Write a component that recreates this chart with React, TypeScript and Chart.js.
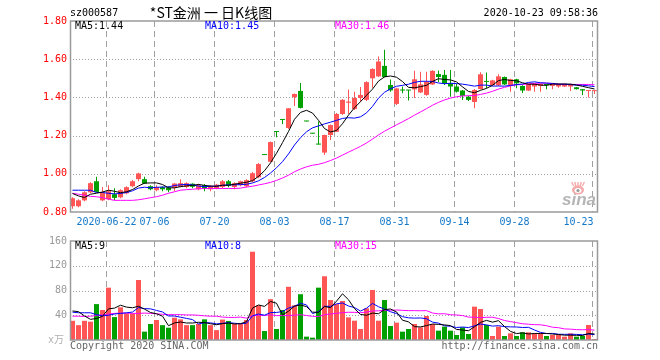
import React, { useEffect, useRef } from 'react';
import { Chart, registerables } from 'chart.js';
Chart.register(...registerables);

const dates = ['06-12','06-15','06-16','06-17','06-18','06-19','06-22','06-23','06-24','06-29','06-30','07-01','07-02','07-03','07-06','07-07','07-08','07-09','07-10','07-13','07-14','07-15','07-16','07-17','07-20','07-21','07-22','07-23','07-24','07-27','07-28','07-29','07-30','07-31','08-03','08-04','08-05','08-06','08-07','08-10','08-11','08-12','08-13','08-14','08-17','08-18','08-19','08-20','08-21','08-24','08-25','08-26','08-27','08-28','08-31','09-01','09-02','09-03','09-04','09-07','09-08','09-09','09-10','09-11','09-14','09-15','09-16','09-17','09-18','09-21','09-22','09-23','09-24','09-25','09-28','09-29','09-30','10-09','10-12','10-13','10-14','10-15','10-16','10-19','10-20','10-21','10-22','10-23'];
const tickLabels = ['2020-06-22','07-06','07-20','08-03','08-17','08-31','09-14','09-28','10-23'];

const open = [
  0.830, 0.830, 0.861, 0.903, 0.961, 0.861, 0.867, 0.893, 0.877, 0.898,
  0.935, 0.972, 0.972, 0.935, 0.914, 0.930, 0.927, 0.927, 0.931, 0.931,
  0.948, 0.919, 0.940, 0.919, 0.925, 0.931, 0.961, 0.931, 0.940, 0.935,
  0.961, 0.982, 1.103, 1.063, 1.221, 1.285, 1.240, 1.401, 1.434, 1.277,
  1.213, 1.158, 1.111, 1.203, 1.220, 1.313, 1.372, 1.339, 1.397, 1.387,
  1.500, 1.510, 1.565, 1.465, 1.366, 1.439, 1.439, 1.442, 1.426, 1.413,
  1.468, 1.522, 1.518, 1.474, 1.457, 1.436, 1.404, 1.376, 1.444, 1.484,
  1.464, 1.463, 1.507, 1.464, 1.495, 1.460, 1.436, 1.457, 1.460, 1.471,
  1.460, 1.457, 1.457, 1.457, 1.453, 1.443, 1.433, 1.433
];
const high = [
  0.877, 0.867, 0.909, 0.956, 0.984, 0.931, 0.940, 0.925, 0.919, 0.935,
  0.967, 1.006, 0.985, 0.940, 0.940, 0.935, 0.935, 0.951, 0.972, 0.956,
  0.951, 0.946, 0.946, 0.940, 0.946, 0.967, 0.967, 0.956, 0.964, 0.972,
  1.009, 1.056, 1.103, 1.169, 1.221, 1.285, 1.345, 1.421, 1.476, 1.277,
  1.213, 1.274, 1.205, 1.258, 1.318, 1.392, 1.442, 1.429, 1.455, 1.484,
  1.552, 1.614, 1.649, 1.494, 1.450, 1.457, 1.439, 1.539, 1.534, 1.534,
  1.542, 1.541, 1.544, 1.544, 1.471, 1.439, 1.408, 1.444, 1.532, 1.531,
  1.492, 1.521, 1.510, 1.497, 1.497, 1.463, 1.473, 1.473, 1.473, 1.471,
  1.473, 1.473, 1.471, 1.471, 1.455, 1.444, 1.436, 1.436
];
const low = [
  0.817, 0.825, 0.856, 0.898, 0.903, 0.856, 0.861, 0.861, 0.872, 0.893,
  0.930, 0.961, 0.946, 0.914, 0.909, 0.909, 0.903, 0.909, 0.930, 0.925,
  0.925, 0.914, 0.909, 0.909, 0.919, 0.925, 0.930, 0.919, 0.935, 0.930,
  0.956, 0.977, 1.098, 1.061, 1.191, 1.261, 1.234, 1.355, 1.342, 1.274,
  1.210, 1.153, 1.098, 1.177, 1.219, 1.308, 1.313, 1.334, 1.376, 1.381,
  1.450, 1.507, 1.505, 1.429, 1.360, 1.422, 1.384, 1.397, 1.423, 1.408,
  1.465, 1.481, 1.465, 1.404, 1.426, 1.387, 1.381, 1.343, 1.442, 1.448,
  1.460, 1.460, 1.465, 1.430, 1.448, 1.423, 1.434, 1.430, 1.430, 1.443,
  1.443, 1.450, 1.455, 1.434, 1.442, 1.413, 1.400, 1.418
];
const close = [
  0.872, 0.861, 0.903, 0.951, 0.905, 0.903, 0.909, 0.874, 0.914, 0.930,
  0.961, 1.002, 0.949, 0.919, 0.931, 0.919, 0.914, 0.949, 0.951, 0.951,
  0.932, 0.940, 0.922, 0.935, 0.943, 0.961, 0.938, 0.951, 0.961, 0.967,
  1.003, 1.051, 1.098, 1.166, 1.219, 1.282, 1.343, 1.418, 1.345, 1.274,
  1.210, 1.153, 1.203, 1.255, 1.313, 1.387, 1.378, 1.397, 1.413, 1.480,
  1.549, 1.588, 1.507, 1.437, 1.447, 1.436, 1.436, 1.495, 1.468, 1.481,
  1.539, 1.507, 1.474, 1.457, 1.430, 1.408, 1.387, 1.439, 1.521, 1.481,
  1.489, 1.510, 1.468, 1.495, 1.474, 1.436, 1.471, 1.471, 1.471, 1.465,
  1.471, 1.471, 1.471, 1.469, 1.443, 1.436, 1.436, 1.436
];
// volume, 万手
const volume = [
  31, 24, 31, 29.6, 58, 48.5, 84.6, 37, 52.8, 43,
  43, 97, 13.5, 25.9, 32.3, 24, 19.9, 36, 33.4, 24,
  24, 26, 33.4, 24, 16, 33, 30.7, 26, 26, 32.3,
  142.7, 56, 14.5, 66, 17.8, 48.5, 86, 56, 74, 5.4,
  3.8, 84.6, 103, 64.6, 58, 63, 36.6, 31.2, 17.8, 51.2,
  80.8, 31.2, 64.6, 22.6, 28, 13.5, 17.8, 25.9, 20.5, 38.8,
  25.9, 15.1, 21.6, 15.1, 8.1, 20.5, 9.7, 53.9, 50.1, 24.2,
  6.5, 21.6, 6.5, 10.8, 6.5, 12.4, 12.4, 10.8, 10.8, 6.5,
  8.1, 8.1, 5.4, 10.8, 5.4, 6.5, 24.2, 1.6
];

// moving-average values at the left edge (their windows start before the first shown day)
const ma5Head = [0.897, 0.884, 0.876, 0.893];
const ma10Head = [0.914, 0.914, 0.914, 0.914, 0.902, 0.902, 0.898, 0.895, 0.897];
const ma30Head = [0.898, 0.893, 0.888, 0.882, 0.880, 0.875, 0.867, 0.861, 0.861, 0.861, 0.861, 0.864, 0.869, 0.875, 0.880, 0.888, 0.898, 0.906, 0.914, 0.917, 0.919, 0.922, 0.923, 0.923, 0.923, 0.923, 0.923, 0.923, 0.925];
const volMa5Head = [46.9, 45.8, 38.8, 33.4];
const volMa10Head = [45, 44, 44, 44, 41, 39, 40, 42, 43];
const volMa30Head = [38.5, 38.5, 38, 38.5, 39.5, 40.5, 42, 43, 43.5, 43.5, 43, 43, 43.5, 43, 42.5, 41.5, 41, 41, 41, 40.5, 40.5, 40, 39, 38.5, 38.5, 37, 36.5, 36.5, 37];

const priceTicks = [0.8, 1.0, 1.2, 1.4, 1.6, 1.8];
const volTicks = [40, 80, 120, 160];
const priceLegend = ['MA5:1.44', 'MA10:1.45', 'MA30:1.46'];
const volLegend = ['MA5:9', 'MA10:8', 'MA30:15'];
const legendColors = ['#000000', '#0000ff', '#ff00ff'];

const RED = '#ff5555';
const GREEN = '#00a000';
const GRID = '#a0a0a0';
const MONO = '10px "DejaVu Sans Mono", "Noto Sans CJK SC", monospace';

function movingAvg(src: number[], n: number, head: number[]) {
  return src.map((_, i) => {
    if (i < n - 1) return head[i];
    let s = 0;
    for (let k = i - n + 1; k <= i; k++) s += src[k];
    return s / n;
  });
}

const candleColors = close.map((c, i) => (c >= open[i] ? RED : GREEN));
const tickIdx = tickLabels.map((t) => dates.findIndex((d) => t.endsWith(d)));

const xScale: any = {
  type: 'linear',
  display: false,
  offset: false,
  min: -2.5 / 6,
  max: dates.length - 1 + 3.5 / 6,
};

function lineDs(values: number[], color: string) {
  return {
    type: 'line' as const,
    data: values.map((v, i) => ({ x: i, y: v })),
    borderColor: color,
    borderWidth: 1,
    pointRadius: 0,
    fill: false,
    tension: 0,
    order: 0,
  };
}

function drawVerticalDashes(chart: any) {
  const { ctx, chartArea: a, scales } = chart;
  ctx.save();
  ctx.strokeStyle = GRID;
  ctx.lineWidth = 1;
  ctx.setLineDash([6, 4]);
  for (const idx of tickIdx) {
    const px = Math.round(scales.x.getPixelForValue(idx) - 2.5) + 0.5;
    ctx.beginPath();
    ctx.moveTo(px, a.top);
    ctx.lineTo(px, a.bottom);
    ctx.stroke();
  }
  ctx.restore();
}

function drawHorizontalDots(chart: any, values: number[]) {
  const { ctx, chartArea: a, scales } = chart;
  ctx.save();
  ctx.strokeStyle = GRID;
  ctx.lineWidth = 1;
  ctx.setLineDash([1, 2]);
  for (const v of values) {
    const py = Math.round(scales.y.getPixelForValue(v)) + 0.5;
    ctx.beginPath();
    ctx.moveTo(a.left, py);
    ctx.lineTo(a.right, py);
    ctx.stroke();
  }
  ctx.restore();
}

function drawFrame(chart: any) {
  const { ctx, chartArea: a } = chart;
  ctx.save();
  ctx.strokeStyle = '#9a9a9a';
  ctx.lineWidth = 1.5;
  ctx.strokeRect(a.left + 0.5, a.top, a.right - a.left - 1, a.bottom - a.top);
  ctx.restore();
}

function drawSina(ctx: CanvasRenderingContext2D, right: number, bottom: number) {
  ctx.save();
  ctx.fillStyle = '#b5b5b5';
  ctx.font = 'italic bold 17px "Liberation Sans", sans-serif';
  ctx.textAlign = 'right';
  ctx.textBaseline = 'alphabetic';
  ctx.fillText('sina', right - 2, bottom - 7);
  const cx = right - 20;
  const cy = bottom - 22;
  ctx.fillStyle = '#f6a9a9';
  ctx.beginPath();
  ctx.ellipse(cx, cy, 6, 4.5, 0, 0, Math.PI * 2);
  ctx.fill();
  ctx.fillStyle = '#ffffff';
  ctx.beginPath();
  ctx.ellipse(cx, cy + 0.5, 3.5, 2.5, 0, 0, Math.PI * 2);
  ctx.fill();
  ctx.fillStyle = '#9a9a9a';
  ctx.beginPath();
  ctx.arc(cx, cy + 0.5, 1.6, 0, Math.PI * 2);
  ctx.fill();
  ctx.strokeStyle = '#f6a9a9';
  ctx.lineWidth = 1.4;
  for (let k = -2; k <= 2; k++) {
    ctx.beginPath();
    ctx.moveTo(cx + k * 2.2, cy - 4);
    ctx.lineTo(cx + k * 3.2, cy - 8);
    ctx.stroke();
  }
  ctx.restore();
}

function priceConfig(): any {
  const ma5 = movingAvg(close, 5, ma5Head);
  const ma10 = movingAvg(close, 10, ma10Head);
  const ma30 = movingAvg(close, 30, ma30Head);
  const plugin = {
    id: 'pricedeco',
    beforeDatasetsDraw(chart: any) {
      drawHorizontalDots(chart, priceTicks.slice(1, -1));
      drawVerticalDashes(chart);
      drawSina(chart.ctx, chart.chartArea.right, chart.chartArea.bottom);
    },
    afterDraw(chart: any) {
      const { ctx, chartArea: a, scales } = chart;
      drawFrame(chart);
      ctx.save();
      ctx.font = MONO;
      ctx.textBaseline = 'middle';
      ctx.fillStyle = '#ff0000';
      ctx.textAlign = 'right';
      for (const t of priceTicks) ctx.fillText(t.toFixed(2), a.left - 3, scales.y.getPixelForValue(t));
      ctx.fillStyle = '#1478c8';
      tickIdx.forEach((idx, k) => {
        const px = Math.round(scales.x.getPixelForValue(idx) - 2.5) + 0.5;
        if (k === tickIdx.length - 1) {
          ctx.textAlign = 'right';
          ctx.fillText(tickLabels[k], px + 1, a.bottom + 10.5);
        } else {
          ctx.textAlign = 'center';
          ctx.fillText(tickLabels[k], px, a.bottom + 10.5);
        }
      });
      ctx.fillStyle = '#000000';
      ctx.textAlign = 'left';
      ctx.fillText('sz000587', a.left, 13);
      ctx.textAlign = 'right';
      ctx.fillText('2020-10-23 09:58:36', a.right, 13);
      ctx.font = '14px "Noto Sans CJK SC", sans-serif';
      ctx.textAlign = 'center';
      ctx.fillText('*ST金洲 一 日K线图', 211, 12.5);
      ctx.font = MONO;
      ctx.textAlign = 'left';
      const lx = [a.left + 5, a.left + 135, a.left + 265];
      priceLegend.forEach((s, k) => {
        ctx.fillStyle = legendColors[k];
        ctx.fillText(s, lx[k], a.top + 5.5);
      });
      ctx.restore();
    },
  };
  return {
    type: 'bar',
    data: {
      datasets: [
        lineDs(ma5, legendColors[0]),
        lineDs(ma10, legendColors[1]),
        lineDs(ma30, legendColors[2]),
        {
          type: 'bar',
          data: dates.map((_, i) => ({ x: i, y: [open[i], close[i]] })),
          backgroundColor: candleColors,
          barThickness: 5,
          minBarLength: 1,
          grouped: false,
          inflateAmount: 0,
          order: 1,
        },
        {
          type: 'bar',
          data: dates.map((_, i) => ({ x: i, y: [low[i], high[i]] })),
          backgroundColor: candleColors,
          barThickness: 1,
          grouped: false,
          inflateAmount: 0,
          order: 2,
        },
      ],
    },
    options: {
      animation: false,
      responsive: false,
      maintainAspectRatio: false,
      devicePixelRatio: 1,
      layout: { padding: { left: 70, right: 62, top: 21, bottom: 24 } },
      plugins: { legend: { display: false }, tooltip: { enabled: false } },
      events: [],
      scales: {
        x: xScale,
        y: { type: 'linear', display: false, min: 0.8, max: 1.8 },
      },
    },
    plugins: [plugin],
  };
}

function volConfig(): any {
  const v5 = movingAvg(volume, 5, volMa5Head);
  const v10 = movingAvg(volume, 10, volMa10Head);
  const v30 = movingAvg(volume, 30, volMa30Head);
  const plugin = {
    id: 'voldeco',
    beforeDatasetsDraw(chart: any) {
      drawHorizontalDots(chart, volTicks.slice(0, -1));
      drawVerticalDashes(chart);
    },
    afterDraw(chart: any) {
      const { ctx, chartArea: a, scales } = chart;
      drawFrame(chart);
      ctx.save();
      ctx.font = MONO;
      ctx.textBaseline = 'middle';
      ctx.textAlign = 'right';
      ctx.fillStyle = '#999999';
      for (const t of volTicks) ctx.fillText(String(t), a.left - 3, scales.y.getPixelForValue(t));
      ctx.fillStyle = '#b0b0b0';
      ctx.fillText('x万', a.left - 6, scales.y.getPixelForValue(0));
      ctx.textAlign = 'left';
      const lx = [a.left + 5, a.left + 135, a.left + 265];
      volLegend.forEach((s, k) => {
        ctx.fillStyle = legendColors[k];
        ctx.fillText(s, lx[k], a.top + 5.5);
      });
      ctx.fillStyle = '#666666';
      ctx.fillText('Copyright 2020 SINA.COM', a.left, a.bottom + 6.5);
      ctx.textAlign = 'right';
      ctx.fillText('http://finance.sina.com.cn', a.right, a.bottom + 6.5);
      ctx.restore();
    },
  };
  return {
    type: 'bar',
    data: {
      datasets: [
        lineDs(v5, legendColors[0]),
        lineDs(v10, legendColors[1]),
        lineDs(v30, legendColors[2]),
        {
          type: 'bar',
          data: dates.map((_, i) => ({ x: i, y: volume[i] })),
          backgroundColor: candleColors,
          barThickness: 5,
          grouped: false,
          inflateAmount: 0,
          order: 1,
        },
      ],
    },
    options: {
      animation: false,
      responsive: false,
      maintainAspectRatio: false,
      devicePixelRatio: 1,
      layout: { padding: { left: 70, right: 62, top: 5, bottom: 20 } },
      plugins: { legend: { display: false }, tooltip: { enabled: false } },
      events: [],
      scales: {
        x: xScale,
        y: { type: 'linear', display: false, min: 0, max: 160 },
      },
    },
    plugins: [plugin],
  };
}

export default function App() {
  const topRef = useRef<HTMLCanvasElement>(null);
  const botRef = useRef<HTMLCanvasElement>(null);
  useEffect(() => {
    const c1 = new Chart(topRef.current as HTMLCanvasElement, priceConfig());
    const c2 = new Chart(botRef.current as HTMLCanvasElement, volConfig());
    return () => {
      c1.destroy();
      c2.destroy();
    };
  }, []);
  return (
    <div style={{ position: 'fixed', left: 0, top: 0, width: 660, height: 360, background: '#ffffff' }}>
      <canvas ref={topRef} width={660} height={236} style={{ position: 'absolute', left: 0, top: 0, width: 660, height: 236 }} />
      <canvas ref={botRef} width={660} height={124} style={{ position: 'absolute', left: 0, top: 236, width: 660, height: 124 }} />
    </div>
  );
}
